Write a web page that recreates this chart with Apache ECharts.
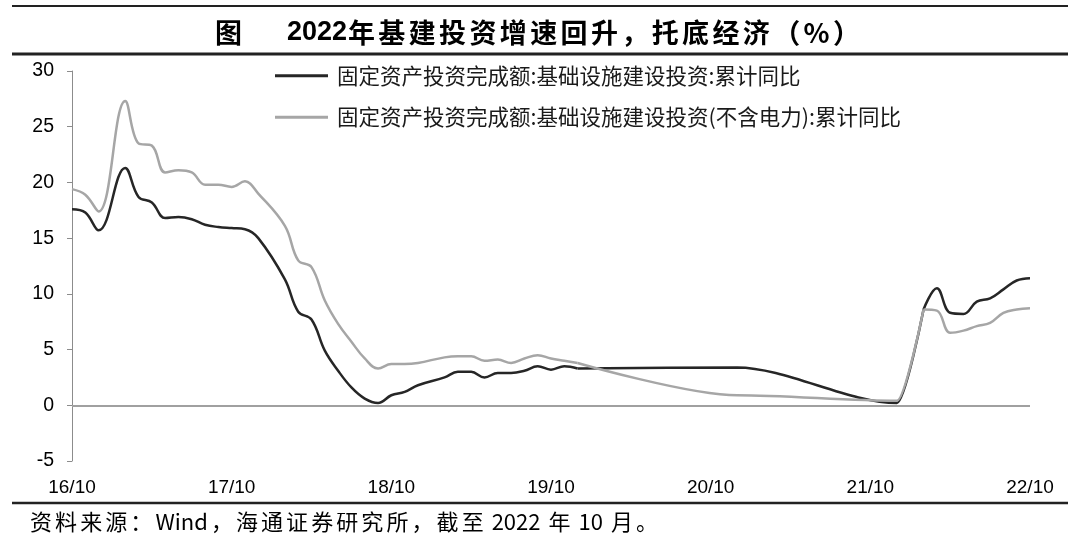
<!DOCTYPE html>
<html>
<head>
<meta charset="utf-8">
<script src="https://cdn.jsdelivr.net/npm/echarts@6/dist/echarts.min.js"></script>
<style>
html,body{margin:0;padding:0;background:#fff;}
#main{width:1080px;height:543px;}
</style>
</head>
<body>
<div id="main"></div>
<script>
const months = [
'16/10','16/11','16/12',
'17/01','17/02','17/03','17/04','17/05','17/06','17/07','17/08','17/09','17/10','17/11','17/12',
'18/01','18/02','18/03','18/04','18/05','18/06','18/07','18/08','18/09','18/10','18/11','18/12',
'19/01','19/02','19/03','19/04','19/05','19/06','19/07','19/08','19/09','19/10','19/11','19/12',
'20/01','20/02','20/03','20/04','20/05','20/06','20/07','20/08','20/09','20/10','20/11','20/12',
'21/01','21/02','21/03','21/04','21/05','21/06','21/07','21/08','21/09','21/10','21/11','21/12',
'22/01','22/02','22/03','22/04','22/05','22/06','22/07','22/08','22/09','22/10'
];
const yTicks = [-5, 0, 5, 10, 15, 20, 25, 30];
const seriesNames = ['固定资产投资完成额:基础设施建设投资:累计同比', '固定资产投资完成额:基础设施建设投资(不含电力):累计同比'];
// 基础设施建设投资 累计同比 (%)
const infraTotal = [
17.6, 17.3, 15.7,
null, 21.3, 18.7, 18.2, 16.8, 16.9, 16.7, 16.2, 16.0, 15.9, 15.8, 15.0,
null, 11.3, 8.4, 7.7, 4.9, 3.1, 1.6, 0.6, 0.2, 0.9, 1.2, 1.8,
null, 2.5, 3.0, 3.0, 2.5, 2.9, 2.9, 3.1, 3.5, 3.2, 3.5, 3.3,
null, null, null, null, null, null, null, null, null, null, null, 3.4,
null, null, null, null, null, null, null, null, null, null, null, 0.2,
null, 8.6, 10.5, 8.3, 8.2, 9.3, 9.6, 10.4, 11.2, 11.4
];
// 基础设施建设投资(不含电力) 累计同比 (%)
const infraExPower = [
19.4, 18.9, 17.4,
null, 27.3, 23.5, 23.3, 20.9, 21.1, 20.9, 19.8, 19.8, 19.6, 20.1, 19.0,
null, 16.1, 13.0, 12.4, 9.4, 7.3, 5.7, 4.2, 3.3, 3.7, 3.7, 3.8,
null, 4.3, 4.4, 4.4, 4.0, 4.1, 3.8, 4.2, 4.5, 4.2, 4.0, 3.8,
null, null, null, null, null, null, null, null, null, null, null, 0.9,
null, null, null, null, null, null, null, null, null, null, null, 0.4,
null, 8.6, 8.5, 6.5, 6.7, 7.1, 7.4, 8.3, 8.6, 8.7
];
// stretches: monthly 2016-2019, year-end readings only 2019/12-2022/02, monthly 2022
const sparseFrom = months.indexOf('19/12');
const sparseTo = months.indexOf('22/02');

function part(arr, from, to) {
  return arr.map(function (v, i) { return (i >= from && i <= to) ? v : null; });
}

const cjk = '"Noto Sans CJK SC", "Noto Sans", sans-serif';
const latin = '"Liberation Sans", Arial, sans-serif';

// lay out a text run spread between x0 and x1 (letter spacing like the original)
const measureCtx = document.createElement('canvas').getContext('2d');
function spreadText(text, font, x0, x1, top, fill) {
  const tokens = text.match(/[A-Za-z0-9.%]+ ?|. ?/g);
  measureCtx.font = font;
  const widths = tokens.map(function (t) { return measureCtx.measureText(t).width; });
  const total = widths.reduce(function (a, b) { return a + b; }, 0);
  const gap = tokens.length > 1 ? (x1 - x0 - total) / (tokens.length - 1) : 0;
  const out = [];
  let x = x0;
  tokens.forEach(function (t, i) {
    out.push({type: 'text', x: x, y: top, style: {text: t, font: font, fill: fill, textVerticalAlign: 'middle'}});
    x += widths[i] + gap;
  });
  return out;
}

const lineColors = ['#262626', '#a6a6a6'];
function lineSeries(idx, data, sparse) {
  return {
    name: seriesNames[idx],
    type: 'line',
    data: data,
    connectNulls: true,
    smooth: sparse ? 0.3 : 0.4,
    smoothMonotone: sparse ? 'x' : undefined,
    showSymbol: false,
    lineStyle: {color: lineColors[idx], width: 2.5},
    itemStyle: {color: lineColors[idx]},
    z: 3
  };
}

const last = months.length - 1;
const s0 = lineSeries(0, part(infraTotal, 0, sparseFrom), false);
s0.markLine = {
  silent: true,
  symbol: ['none', 'none'],
  label: {show: false},
  lineStyle: {color: '#a0a0a0', width: 2, type: 'solid'},
  data: [{yAxis: 0}],
  z: 1
};

const graphics = [
  {type: 'line', shape: {x1: 12, y1: 6, x2: 1068, y2: 6}, style: {stroke: '#222', lineWidth: 2}},
  {type: 'line', shape: {x1: 12, y1: 54, x2: 1068, y2: 54}, style: {stroke: '#222', lineWidth: 3}},
  {type: 'line', shape: {x1: 12, y1: 503, x2: 1068, y2: 503}, style: {stroke: '#222', lineWidth: 2.5}},
  {type: 'text', x: 215, y: 33, style: {text: '图', font: 'bold 27px ' + cjk, fill: '#000', textVerticalAlign: 'middle'}},
  {type: 'text', x: 287, y: 33, style: {text: '2022', font: 'bold 27px "Liberation Sans Narrow", ' + latin, fill: '#000', textVerticalAlign: 'middle'}}
].concat(
  spreadText('年基建投资增速回升，托底经济（%）', 'bold 27px ' + cjk, 348, 860, 33, '#000'),
  spreadText('资料来源：Wind，海通证券研究所，截至 2022 年 10 月。', '22px ' + cjk, 30, 658, 522, '#000')
);

const chart = echarts.init(document.getElementById('main'), null, {renderer: 'canvas'});
const option = {
  animation: false,
  backgroundColor: '#ffffff',
  grid: {left: 72, right: 50, top: 71, bottom: 82, containLabel: false},
  legend: {
    orient: 'vertical',
    left: 275,
    top: 65,
    padding: 0,
    itemWidth: 53,
    itemHeight: 3,
    itemGap: 20,
    icon: 'rect',
    textStyle: {fontFamily: cjk, fontSize: 21.5, color: '#1a1a1a', padding: [0, 0, 0, 4]},
    data: seriesNames
  },
  xAxis: {
    type: 'category',
    data: months,
    boundaryGap: false,
    axisLine: {show: false, onZero: false},
    axisTick: {show: false},
    axisLabel: {interval: 11, margin: 17, fontFamily: latin, fontSize: 19, color: '#000'},
    splitLine: {show: false}
  },
  yAxis: {
    type: 'value',
    min: yTicks[0],
    max: yTicks[yTicks.length - 1],
    interval: 5,
    axisLine: {show: true, lineStyle: {color: '#8c8c8c', width: 1}},
    axisTick: {show: true, inside: false, length: 5, lineStyle: {color: '#8c8c8c'}},
    axisLabel: {margin: 18, fontFamily: latin, fontSize: 19.5, color: '#000'},
    splitLine: {show: false}
  },
  series: [
    s0,
    lineSeries(0, part(infraTotal, sparseFrom, sparseTo), true),
    lineSeries(0, part(infraTotal, sparseTo, last), false),
    lineSeries(1, part(infraExPower, 0, sparseFrom), false),
    lineSeries(1, part(infraExPower, sparseFrom, sparseTo), true),
    lineSeries(1, part(infraExPower, sparseTo, last), false)
  ],
  graphic: graphics
};
chart.setOption(option);
</script>
</body>
</html>
